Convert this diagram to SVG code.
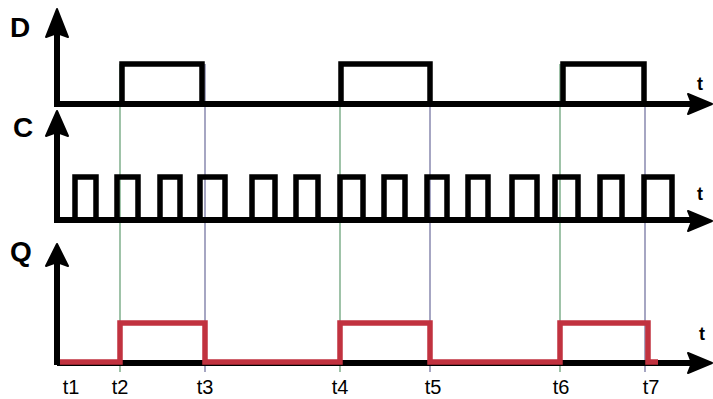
<svg xmlns="http://www.w3.org/2000/svg" width="713" height="399" viewBox="0 0 713 399">
<style>
.sig{fill:none;stroke:#000;stroke-width:5.5;stroke-linejoin:miter;stroke-linecap:butt}
.axis{fill:none;stroke:#000;stroke-width:6}
.q{fill:none;stroke:#c1323f;stroke-width:5.5;stroke-linejoin:miter}
.gg{stroke:#5e9a6e;stroke-width:1.2}
.gb{stroke:#6b6b9a;stroke-width:1.2}
.lbl{font-family:"Liberation Sans",Arial,sans-serif;font-weight:bold;font-size:28px;fill:#000}
.tl{font-family:"Liberation Sans",Arial,sans-serif;font-weight:bold;font-size:18px;fill:#000;text-anchor:middle}
.tb{font-family:"Liberation Sans",Arial,sans-serif;font-size:20px;fill:#000;text-anchor:middle}
.ah{fill:#000;stroke:#000;stroke-width:2;stroke-linejoin:round}
</style>
<rect width="713" height="399" fill="#fff"/>
<g id="guides">
<line class="gg" x1="120" y1="64" x2="120" y2="372"/>
<line class="gg" x1="340" y1="64" x2="340" y2="372"/>
<line class="gg" x1="560" y1="64" x2="560" y2="372"/>
<line class="gb" x1="205" y1="64" x2="205" y2="372"/>
<line class="gb" x1="430" y1="64" x2="430" y2="372"/>
<line class="gb" x1="645" y1="64" x2="645" y2="372"/>
</g>
<g id="axis-D">
<path class="axis" d="M57,107 V30"/>
<path class="ah" d="M57,9 L68,37 L57,33 L46,37 Z"/>
<path class="axis" stroke-width="5" d="M57,104 H692"/>
<path class="ah" d="M712,104 L688,94 L692,104 L688,114 Z"/>
<text class="lbl" x="10" y="37">D</text>
<text class="tl" x="700" y="90">t</text>
</g>
<g id="signal-D">
<path class="sig" d="M57,104 H122 V64 H202 V104 H341 V64 H430 V104 H563 V64 H644 V104"/>
</g>
<g id="axis-C">
<path class="axis" d="M57,223 V130"/>
<path class="ah" d="M57,111 L68,136 L57,132 L46,136 Z"/>
<path class="axis" stroke-width="5" d="M57,220 H692"/>
<path class="ah" d="M712,221 L688,211 L692,221 L688,231 Z"/>
<text class="lbl" x="13" y="137">C</text>
<text class="tl" x="700" y="200">t</text>
</g>
<g id="signal-C">
<path class="sig" d="M57,220 H75 V177 H96 V220 H117 V177 H138 V220 H160 V177 H180 V220 H200 V177 H225 V220 H252 V177 H275 V220 H296 V177 H318 V220 H340 V177 H363 V220 H384 V177 H405 V220 H427 V177 H447 V220 H468 V177 H488 V220 H512 V177 H537 V220 H555 V177 H578 V220 H600 V177 H622 V220 H644 V177 H672 V220"/>
</g>
<g id="axis-Q">
<path class="axis" d="M57,365 V258"/>
<path class="ah" d="M57,244 L68,266 L57,262 L46,266 Z"/>
<path class="axis" stroke-width="4" d="M57,363 H692"/>
<path class="ah" d="M712,363 L688,353 L692,363 L688,373 Z"/>
<text class="lbl" x="10" y="261">Q</text>
<text class="tl" x="702" y="340">t</text>
</g>
<g id="signal-Q">
<path class="q" d="M60,362 H120 V323 H205 V362 H340 V323 H430 V362 H560 V323 H648 V362 H658"/>
</g>
<g id="time-labels">
<text class="tb" x="71" y="394">t1</text>
<text class="tb" x="120" y="394">t2</text>
<text class="tb" x="205" y="394">t3</text>
<text class="tb" x="340" y="394">t4</text>
<text class="tb" x="433" y="394">t5</text>
<text class="tb" x="561" y="394">t6</text>
<text class="tb" x="651" y="394">t7</text>
</g>
</svg>
